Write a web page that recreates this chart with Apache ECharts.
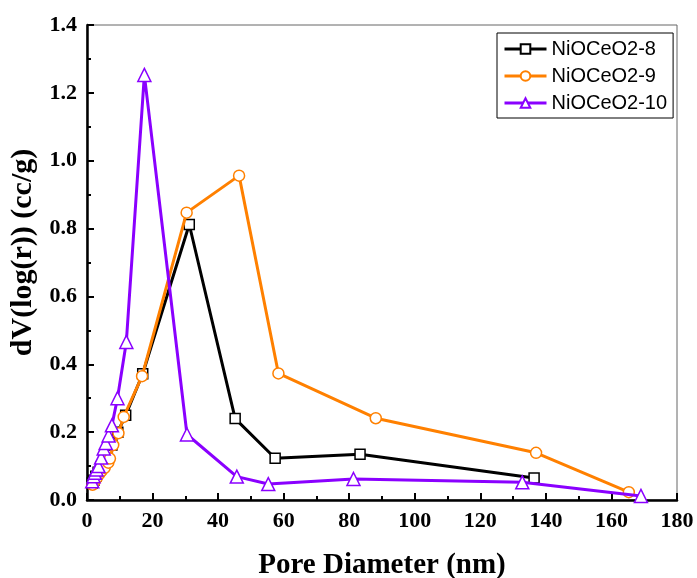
<!DOCTYPE html>
<html>
<head>
<meta charset="utf-8">
<script src="https://cdn.jsdelivr.net/npm/echarts@6/dist/echarts.min.js"></script>
<style>html,body{margin:0;padding:0;background:#fff;}#c{width:697px;height:578px;}</style>
</head>
<body>
<div id="c"></div>
<script>
var xTicks = [0, 20, 40, 60, 80, 100, 120, 140, 160, 180];
var yTicks = [0.0, 0.2, 0.4, 0.6, 0.8, 1.0, 1.2, 1.4];
var seriesNames = ['NiOCeO2-8', 'NiOCeO2-9', 'NiOCeO2-10'];

var s8x = [1.6, 2.1, 2.7, 3.4, 4.2, 5.1, 6.2, 7.6, 9.4, 11.8, 17.0, 31.2, 45.2, 57.4, 83.3, 136.4];
var s8y = [0.050, 0.058, 0.070, 0.082, 0.097, 0.115, 0.135, 0.162, 0.200, 0.250, 0.372, 0.812, 0.240, 0.123, 0.135, 0.065];

var s9x = [1.7, 2.3, 3.0, 3.8, 4.4, 5.4, 6.5, 7.0, 8.0, 9.6, 11.2, 16.8, 30.4, 46.4, 58.4, 88.1, 137.0, 165.3];
var s9y = [0.045, 0.055, 0.065, 0.077, 0.085, 0.095, 0.110, 0.122, 0.162, 0.197, 0.245, 0.365, 0.847, 0.956, 0.373, 0.241, 0.139, 0.023];

var s10x = [1.6, 2.0, 2.4, 2.9, 3.5, 4.3, 5.1, 5.7, 6.6, 7.6, 9.3, 12.0, 17.5, 30.5, 45.7, 55.3, 81.3, 132.8, 169.0];
var s10y = [0.055, 0.070, 0.080, 0.090, 0.100, 0.125, 0.152, 0.168, 0.190, 0.220, 0.300, 0.466, 1.253, 0.193, 0.069, 0.047, 0.062, 0.052, 0.012];

function pairs(xs, ys) { return xs.map(function (x, i) { return [x, ys[i]]; }); }

var colors = ['#000000', '#ff8000', '#8a00ff'];
var symbols = ['rect', 'circle', 'triangle'];
var sizes = [10, 11, 13];
var datasets = [pairs(s8x, s8y), pairs(s9x, s9y), pairs(s10x, s10y)];

var chart = echarts.init(document.getElementById('c'), null, {renderer: 'canvas'});
var labelFont = {fontFamily: 'Liberation Serif', fontWeight: 'bold', fontSize: 22, color: '#000'};

chart.setOption({
  animation: false,
  backgroundColor: '#fff',
  grid: {left: 87, top: 25, right: 20, bottom: 78, outerBoundsMode: 'none', containLabel: false,
         show: true, borderColor: '#666', borderWidth: 1, backgroundColor: 'transparent'},
  legend: {
    data: seriesNames,
    left: 497, top: 33,
    orient: 'vertical',
    borderColor: '#000', borderWidth: 1,
    padding: [6, 6, 5, 6],
    itemWidth: 42, itemHeight: 12, itemGap: 7,
    lineStyle: {width: 3},
    textStyle: {fontFamily: 'Liberation Sans', fontSize: 20, color: '#000'}
  },
  xAxis: {
    type: 'value', min: xTicks[0], max: xTicks[xTicks.length - 1], interval: 20,
    name: 'Pore Diameter (nm)', nameLocation: 'middle', nameGap: 51,
    nameTextStyle: {fontFamily: 'Liberation Serif', fontWeight: 'bold', fontSize: 29, color: '#000'},
    axisLine: {show: true, lineStyle: {color: '#000', width: 2.5}},
    axisTick: {show: true, inside: true, length: 7, lineStyle: {color: '#000', width: 2}},
    minorTick: {show: true, splitNumber: 2, length: 4, lineStyle: {color: '#000', width: 2}},
    axisLabel: Object.assign({margin: 10, formatter: function (v) { return String(v); }}, labelFont),
    splitLine: {show: false}
  },
  yAxis: {
    type: 'value', min: yTicks[0], max: yTicks[yTicks.length - 1], interval: 0.2,
    name: 'dV(log(r)) (cc/g)', nameLocation: 'middle', nameGap: 45,
    nameTextStyle: {fontFamily: 'Liberation Serif', fontWeight: 'bold', fontSize: 30, color: '#000', padding: [0, 0, 0, 20]},
    axisLine: {show: true, lineStyle: {color: '#000', width: 2.5}},
    axisTick: {show: true, inside: true, length: 7, lineStyle: {color: '#000', width: 2}},
    minorTick: {show: true, splitNumber: 2, length: 4, lineStyle: {color: '#000', width: 2}},
    axisLabel: Object.assign({margin: 10, formatter: function (v) { return v.toFixed(1); }}, labelFont),
    splitLine: {show: false}
  },
  series: seriesNames.map(function (n, i) {
    return {
      name: n, type: 'line', data: datasets[i],
      symbol: symbols[i], symbolSize: sizes[i], showAllSymbol: true,
      lineStyle: {color: colors[i], width: 3},
      itemStyle: {color: '#fff', borderColor: colors[i], borderWidth: 1.5},
      z: 2 + i
    };
  })
});
</script>
</body>
</html>
